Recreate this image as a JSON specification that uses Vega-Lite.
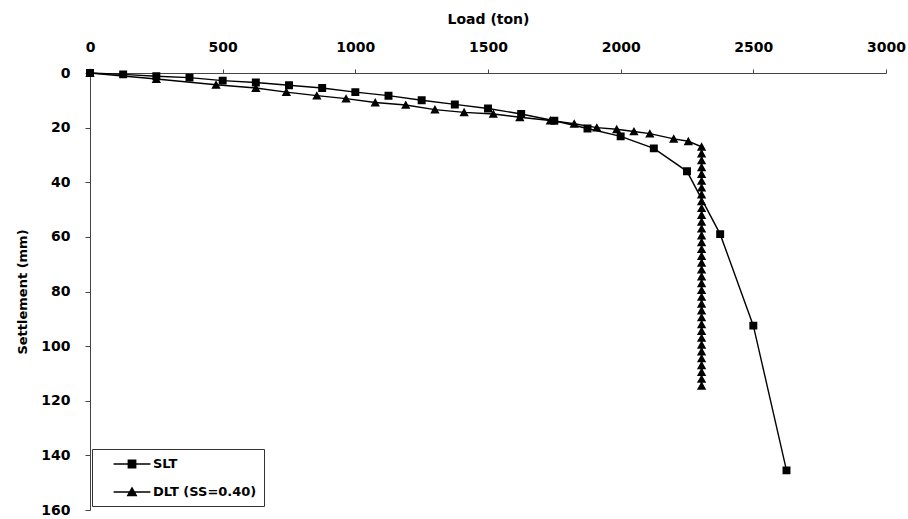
{
  "$schema": "https://vega.github.io/schema/vega-lite/v6.json",
  "width": 796,
  "height": 437,
  "autosize": {"type": "none"},
  "padding": {"left": 90, "top": 73, "right": 22, "bottom": 9},
  "background": "white",
  "config": {"view": {"stroke": null}, "font": "DejaVu Sans"},
  "data": {
    "values": [
      {"series": "SLT", "load": 0, "settlement": 0},
      {"series": "SLT", "load": 125, "settlement": 0.5},
      {"series": "SLT", "load": 250, "settlement": 1.2},
      {"series": "SLT", "load": 375, "settlement": 1.7},
      {"series": "SLT", "load": 500, "settlement": 2.8},
      {"series": "SLT", "load": 625, "settlement": 3.5},
      {"series": "SLT", "load": 750, "settlement": 4.5},
      {"series": "SLT", "load": 875, "settlement": 5.5},
      {"series": "SLT", "load": 1000, "settlement": 7.0},
      {"series": "SLT", "load": 1125, "settlement": 8.3},
      {"series": "SLT", "load": 1250, "settlement": 10.0},
      {"series": "SLT", "load": 1375, "settlement": 11.5},
      {"series": "SLT", "load": 1500, "settlement": 13.0},
      {"series": "SLT", "load": 1625, "settlement": 15.0},
      {"series": "SLT", "load": 1750, "settlement": 17.5},
      {"series": "SLT", "load": 1875, "settlement": 20.3},
      {"series": "SLT", "load": 2000, "settlement": 23.2},
      {"series": "SLT", "load": 2125, "settlement": 27.6},
      {"series": "SLT", "load": 2250, "settlement": 36.0},
      {"series": "SLT", "load": 2375, "settlement": 59.0},
      {"series": "SLT", "load": 2500, "settlement": 92.5},
      {"series": "SLT", "load": 2625, "settlement": 145.5},
      {"series": "DLT (SS=0.40)", "load": 0, "settlement": 0},
      {"series": "DLT (SS=0.40)", "load": 250, "settlement": 2.2},
      {"series": "DLT (SS=0.40)", "load": 475, "settlement": 4.3},
      {"series": "DLT (SS=0.40)", "load": 625, "settlement": 5.5},
      {"series": "DLT (SS=0.40)", "load": 740, "settlement": 7.0},
      {"series": "DLT (SS=0.40)", "load": 855, "settlement": 8.3},
      {"series": "DLT (SS=0.40)", "load": 965, "settlement": 9.4},
      {"series": "DLT (SS=0.40)", "load": 1075, "settlement": 10.8},
      {"series": "DLT (SS=0.40)", "load": 1190, "settlement": 11.7},
      {"series": "DLT (SS=0.40)", "load": 1300, "settlement": 13.4},
      {"series": "DLT (SS=0.40)", "load": 1410, "settlement": 14.4},
      {"series": "DLT (SS=0.40)", "load": 1520, "settlement": 15.0},
      {"series": "DLT (SS=0.40)", "load": 1620, "settlement": 16.2},
      {"series": "DLT (SS=0.40)", "load": 1735, "settlement": 17.4},
      {"series": "DLT (SS=0.40)", "load": 1825, "settlement": 18.6},
      {"series": "DLT (SS=0.40)", "load": 1910, "settlement": 20.0},
      {"series": "DLT (SS=0.40)", "load": 1985, "settlement": 20.6},
      {"series": "DLT (SS=0.40)", "load": 2050, "settlement": 21.4},
      {"series": "DLT (SS=0.40)", "load": 2110, "settlement": 22.2},
      {"series": "DLT (SS=0.40)", "load": 2200, "settlement": 24.1},
      {"series": "DLT (SS=0.40)", "load": 2255, "settlement": 25.0},
      {"series": "DLT (SS=0.40)", "load": 2305, "settlement": 27.0},
      {"series": "DLT (SS=0.40)", "load": 2305, "settlement": 29.5},
      {"series": "DLT (SS=0.40)", "load": 2305, "settlement": 32.0},
      {"series": "DLT (SS=0.40)", "load": 2305, "settlement": 34.5},
      {"series": "DLT (SS=0.40)", "load": 2305, "settlement": 37.0},
      {"series": "DLT (SS=0.40)", "load": 2305, "settlement": 39.5},
      {"series": "DLT (SS=0.40)", "load": 2305, "settlement": 42.0},
      {"series": "DLT (SS=0.40)", "load": 2305, "settlement": 44.5},
      {"series": "DLT (SS=0.40)", "load": 2305, "settlement": 47.0},
      {"series": "DLT (SS=0.40)", "load": 2305, "settlement": 49.5},
      {"series": "DLT (SS=0.40)", "load": 2305, "settlement": 52.0},
      {"series": "DLT (SS=0.40)", "load": 2305, "settlement": 54.5},
      {"series": "DLT (SS=0.40)", "load": 2305, "settlement": 57.0},
      {"series": "DLT (SS=0.40)", "load": 2305, "settlement": 59.5},
      {"series": "DLT (SS=0.40)", "load": 2305, "settlement": 62.0},
      {"series": "DLT (SS=0.40)", "load": 2305, "settlement": 64.5},
      {"series": "DLT (SS=0.40)", "load": 2305, "settlement": 67.0},
      {"series": "DLT (SS=0.40)", "load": 2305, "settlement": 69.5},
      {"series": "DLT (SS=0.40)", "load": 2305, "settlement": 72.0},
      {"series": "DLT (SS=0.40)", "load": 2305, "settlement": 74.5},
      {"series": "DLT (SS=0.40)", "load": 2305, "settlement": 77.0},
      {"series": "DLT (SS=0.40)", "load": 2305, "settlement": 79.5},
      {"series": "DLT (SS=0.40)", "load": 2305, "settlement": 82.0},
      {"series": "DLT (SS=0.40)", "load": 2305, "settlement": 84.5},
      {"series": "DLT (SS=0.40)", "load": 2305, "settlement": 87.0},
      {"series": "DLT (SS=0.40)", "load": 2305, "settlement": 89.5},
      {"series": "DLT (SS=0.40)", "load": 2305, "settlement": 92.0},
      {"series": "DLT (SS=0.40)", "load": 2305, "settlement": 94.5},
      {"series": "DLT (SS=0.40)", "load": 2305, "settlement": 97.0},
      {"series": "DLT (SS=0.40)", "load": 2305, "settlement": 99.5},
      {"series": "DLT (SS=0.40)", "load": 2305, "settlement": 102.0},
      {"series": "DLT (SS=0.40)", "load": 2305, "settlement": 104.5},
      {"series": "DLT (SS=0.40)", "load": 2305, "settlement": 107.0},
      {"series": "DLT (SS=0.40)", "load": 2305, "settlement": 109.5},
      {"series": "DLT (SS=0.40)", "load": 2305, "settlement": 112.0},
      {"series": "DLT (SS=0.40)", "load": 2305, "settlement": 114.5}
    ]
  },
  "encoding": {
    "x": {
      "field": "load",
      "type": "quantitative",
      "scale": {"domain": [0, 3000], "nice": false, "zero": false},
      "axis": {
        "orient": "top",
        "title": "Load (ton)",
        "values": [0, 500, 1000, 1500, 2000, 2500, 3000],
        "format": "d",
        "labelFlush": false,
        "grid": false,
        "domainColor": "#444",
        "tickColor": "#444",
        "tickSize": 4,
        "labelPadding": 15,
        "labelFont": "DejaVu Sans",
        "labelFontSize": 14,
        "labelFontWeight": "bold",
        "labelColor": "black",
        "titleFont": "DejaVu Sans",
        "titleFontSize": 14,
        "titleFontWeight": "bold",
        "titleColor": "black",
        "titlePadding": 14
      }
    },
    "y": {
      "field": "settlement",
      "type": "quantitative",
      "scale": {"domain": [0, 160], "reverse": true, "nice": false},
      "axis": {
        "title": "Settlement (mm)",
        "values": [0, 20, 40, 60, 80, 100, 120, 140, 160],
        "format": "d",
        "labelFlush": false,
        "grid": false,
        "domainColor": "#444",
        "tickColor": "#444",
        "tickSize": 5,
        "labelPadding": 15,
        "labelFont": "DejaVu Sans",
        "labelFontSize": 14,
        "labelFontWeight": "bold",
        "labelColor": "black",
        "titleFont": "DejaVu Sans",
        "titleFontSize": 13,
        "titleFontWeight": "bold",
        "titleColor": "black",
        "titlePadding": 11
      }
    }
  },
  "layer": [
    {
      "mark": {"type": "line", "color": "black", "strokeWidth": 1.4},
      "encoding": {
        "detail": {"field": "series", "type": "nominal"},
        "order": {"field": "settlement", "type": "quantitative"}
      }
    },
    {
      "mark": {"type": "point", "filled": true, "color": "black", "opacity": 1, "size": 225},
      "encoding": {
        "shape": {
          "field": "series",
          "type": "nominal",
          "scale": {
            "domain": ["SLT", "DLT (SS=0.40)"],
            "range": [
              "M-2.6,0H2.6M-0.53,-0.53H0.53V0.53H-0.53Z",
              "M-2.6,0H2.6M0,-0.6L0.62,0.52H-0.62Z"
            ]
          },
          "legend": {
            "title": null,
            "orient": "none",
            "legendX": 2,
            "legendY": 376,
            "strokeColor": "#333",
            "fillColor": "white",
            "padding": 7,
            "symbolSize": 200,
            "symbolStrokeColor": "black",
            "symbolStrokeWidth": 1.3,
            "symbolFillColor": "black",
            "symbolOffset": 25,
            "labelOffset": 13,
            "rowPadding": 13,
            "labelFont": "DejaVu Sans",
            "labelFontSize": 13,
            "labelFontWeight": "bold",
            "labelColor": "black",
            "encoding": {
              "symbols": {
                "stroke": {"value": "black"},
                "strokeWidth": {"value": 1.3}
              }
            }
          }
        }
      }
    }
  ]
}
